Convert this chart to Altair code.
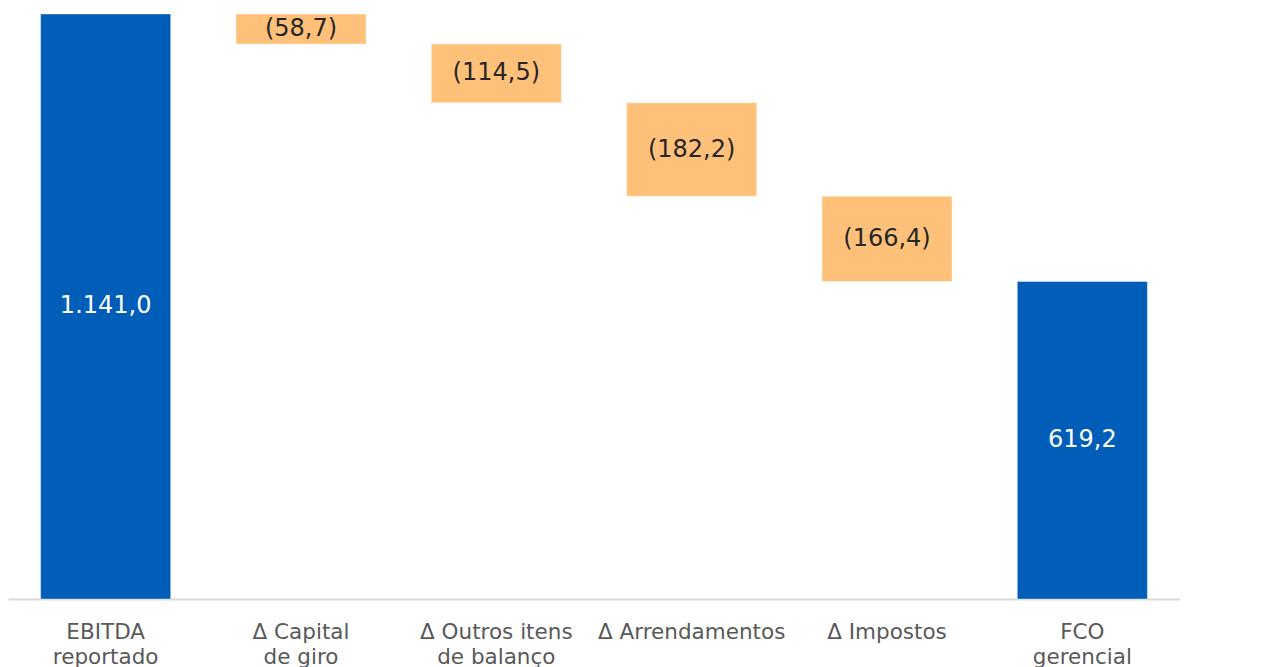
import altair as alt
import pandas as pd

categories = ["EBITDA\nreportado", "Δ Capital\nde giro", "Δ Outros itens\nde balanço",
              "Δ Arrendamentos", "Δ Impostos", "FCO\ngerencial"]
values = [1141.0, -58.7, -114.5, -182.2, -166.4, 619.2]
kinds = ["total", "delta", "delta", "delta", "delta", "total"]


def fmt(v):
    s = f"{abs(v):,.1f}".replace(",", "X").replace(".", ",").replace("X", ".")
    return f"({s})" if v < 0 else s


rows = []
running = 0.0
for c, v, k in zip(categories, values, kinds):
    if k == "total":
        start, end = 0.0, v
        running = v
    else:
        start, end = running, running + v
        running = end
    rows.append({"cat": c, "start": start, "end": end, "mid": (start + end) / 2,
                 "kind": k, "label": fmt(v)})
df = pd.DataFrame(rows)

xenc = alt.X("cat:N", sort=categories, title=None,
             scale=alt.Scale(paddingInner=0.334, paddingOuter=0.167),
             axis=alt.Axis(labelExpr="split(datum.label, '\\n')", ticks=False,
                           domainColor="#d9d9d9", domainWidth=2, labelAngle=0,
                           labelFont="DejaVu Sans", labelFontSize=21.5,
                           labelColor="#595959", labelPadding=22, labelLimit=400,
                           labelLineHeight=25, labelBaseline="top", grid=False))
yscale = alt.Scale(domain=[0, 1152.7], nice=False, zero=True)

base = alt.Chart(df)
bars = base.mark_bar(stroke="white", strokeOpacity=0.4, strokeWidth=1).encode(
    x=xenc,
    y=alt.Y("start:Q", scale=yscale, axis=None),
    y2="end:Q",
    color=alt.Color("kind:N", scale=alt.Scale(domain=["total", "delta"],
                                              range=["#005db8", "#ffc17a"]), legend=None),
)
text = base.mark_text(font="DejaVu Sans", fontSize=24, baseline="middle").encode(
    x=alt.X("cat:N", sort=categories),
    y=alt.Y("mid:Q", scale=yscale),
    text="label:N",
    color=alt.Color("kind:N", scale=alt.Scale(domain=["total", "delta"],
                                              range=["#ffffff", "#262626"]), legend=None),
)

chart = alt.layer(bars, text).resolve_scale(color="independent").properties(
    width=1172, height=591, padding=0
).configure_view(stroke=None)

chart.save("out.html", embed_options={"renderer": "svg", "actions": False})
